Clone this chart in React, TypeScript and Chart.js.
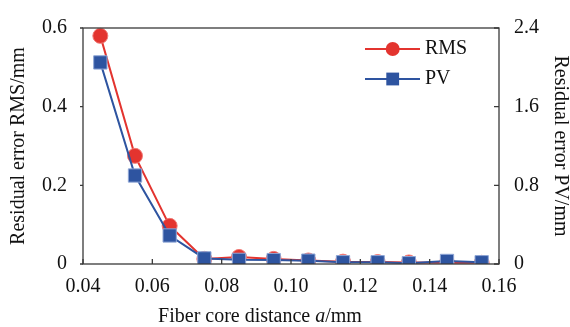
import React, { useEffect, useRef } from "react";
import { Chart, registerables } from "chart.js";

Chart.register(...registerables);

const coreDistance = [0.045, 0.055, 0.065, 0.075, 0.085, 0.095, 0.105, 0.115, 0.125, 0.134, 0.145, 0.155];
const rmsValues = [0.58, 0.275, 0.097, 0.013, 0.018, 0.013, 0.009, 0.006, 0.005, 0.004, 0.003, 0.003];
const pvValues = [2.05, 0.9, 0.29, 0.057, 0.042, 0.04, 0.034, 0.018, 0.018, 0.008, 0.031, 0.018];
const xTicks = [0.04, 0.06, 0.08, 0.1, 0.12, 0.14, 0.16];
const rmsTicks = [0, 0.2, 0.4, 0.6];
const pvTicks = [0, 0.8, 1.6, 2.4];
const seriesNames = ["RMS", "PV"];

const RED = "#E3342F";
const BLUE = "#2E54A0";
const AXIS = "#3a3a3a";
const FONT = "Liberation Serif";
const FS = 20;

export default function App() {
  const ref = useRef<HTMLCanvasElement | null>(null);

  useEffect(() => {
    document.body.style.margin = "0";
    const canvas = ref.current;
    if (!canvas) return;

    const decor = {
      id: "decor",
      afterDraw(chart: any) {
        const ctx = chart.ctx as CanvasRenderingContext2D;
        const a = chart.chartArea;
        const xs = chart.scales.x;
        const yl = chart.scales.y;
        const yr = chart.scales.y2;
        ctx.save();
        ctx.strokeStyle = AXIS;
        ctx.lineWidth = 1.3;
        ctx.strokeRect(a.left, a.top, a.right - a.left, a.bottom - a.top);
        ctx.beginPath();
        xTicks.forEach((v) => {
          const px = xs.getPixelForValue(v);
          ctx.moveTo(px, a.bottom);
          ctx.lineTo(px, a.bottom - 5);
        });
        rmsTicks.forEach((v) => {
          const py = yl.getPixelForValue(v);
          ctx.moveTo(a.left, py);
          ctx.lineTo(a.left - 3, py);
        });
        pvTicks.forEach((v) => {
          const py = yr.getPixelForValue(v);
          ctx.moveTo(a.right, py);
          ctx.lineTo(a.right - 5, py);
        });
        ctx.stroke();

        // axis titles
        ctx.fillStyle = "#111";
        ctx.font = `${FS}px "${FONT}"`;
        ctx.textAlign = "center";
        ctx.textBaseline = "middle";
        const midY = (a.top + a.bottom) / 2;
        ctx.save();
        ctx.translate(19, midY);
        ctx.rotate(-Math.PI / 2);
        ctx.fillText("Residual error RMS/mm", 0, 0);
        ctx.restore();
        ctx.save();
        ctx.translate(560, midY);
        ctx.rotate(Math.PI / 2);
        ctx.fillText("Residual error PV/mm", 0, 0);
        ctx.restore();

        const parts = [
          { t: "Fiber core distance ", f: `${FS}px "${FONT}"` },
          { t: "a", f: `italic ${FS}px "${FONT}"` },
          { t: "/mm", f: `${FS}px "${FONT}"` },
        ];
        let total = 0;
        parts.forEach((p) => {
          ctx.font = p.f;
          total += ctx.measureText(p.t).width;
        });
        let cx = 260 - total / 2;
        ctx.textAlign = "left";
        parts.forEach((p) => {
          ctx.font = p.f;
          ctx.fillText(p.t, cx, 317);
          cx += ctx.measureText(p.t).width;
        });

        // legend
        const rows = [
          { name: seriesNames[0], color: RED, y: 49, shape: "circle" },
          { name: seriesNames[1], color: BLUE, y: 79, shape: "rect" },
        ];
        rows.forEach((r) => {
          ctx.strokeStyle = r.color;
          ctx.lineWidth = 2;
          ctx.beginPath();
          ctx.moveTo(365, r.y);
          ctx.lineTo(420, r.y);
          ctx.stroke();
          ctx.fillStyle = r.color;
          if (r.shape === "circle") {
            ctx.beginPath();
            ctx.arc(392.7, r.y, 7, 0, Math.PI * 2);
            ctx.fill();
          } else {
            ctx.fillRect(392.7 - 6.4, r.y - 6.4, 12.8, 12.8);
          }
          ctx.fillStyle = "#111";
          ctx.font = `${FS}px "${FONT}"`;
          ctx.textAlign = "left";
          ctx.textBaseline = "middle";
          ctx.fillText(r.name, 425, r.y);
        });
        ctx.restore();
      },
    };

    const chart = new Chart(canvas, {
      type: "line",
      data: {
        datasets: [
          {
            label: seriesNames[0],
            data: coreDistance.map((x, i) => ({ x, y: rmsValues[i] })),
            yAxisID: "y",
            borderColor: RED,
            backgroundColor: RED,
            borderWidth: 2,
            pointStyle: "circle",
            pointRadius: 7.5,
            pointBorderColor: "#F07A76",
            pointBorderWidth: 1,
            pointBackgroundColor: RED,
            order: 1,
            clip: { left: 20, right: 20, top: 20, bottom: 0 } as any,
          },
          {
            label: seriesNames[1],
            data: coreDistance.map((x, i) => ({ x, y: pvValues[i] })),
            yAxisID: "y2",
            borderColor: BLUE,
            backgroundColor: BLUE,
            borderWidth: 2,
            pointStyle: "rect",
            pointRadius: 9.4,
            pointBorderColor: "#8EA6D6",
            pointBorderWidth: 1,
            pointBackgroundColor: BLUE,
            order: 0,
            clip: { left: 20, right: 20, top: 20, bottom: 0 } as any,
          },
        ],
      },
      options: {
        responsive: false,
        animation: false,
        layout: { padding: { top: 19, left: 0, right: 0, bottom: 0 } },
        plugins: { legend: { display: false }, tooltip: { enabled: false } },
        scales: {
          x: {
            type: "linear",
            min: 0.04,
            max: 0.16,
            afterFit: (s: any) => {
              s.height = 63;
            },
            afterBuildTicks: (s: any) => {
              s.ticks = xTicks.map((v) => ({ value: v }));
            },
            grid: { display: false, drawTicks: false },
            border: { display: false },
            ticks: {
              padding: 11,
              color: "#111",
              font: { family: FONT, size: FS },
              maxRotation: 0,
              autoSkip: false,
              callback: (v: any) => Number(v).toFixed(2),
            },
          },
          y: {
            position: "left",
            min: 0,
            max: 0.6,
            afterFit: (s: any) => {
              s.width = 83;
            },
            afterBuildTicks: (s: any) => {
              s.ticks = rmsTicks.map((v) => ({ value: v }));
            },
            grid: { display: false, drawTicks: false },
            border: { display: false },
            ticks: {
              padding: 16,
              color: "#111",
              font: { family: FONT, size: FS },
              callback: (v: any) => (Number(v) === 0 ? "0" : Number(v).toFixed(1)),
            },
          },
          y2: {
            position: "right",
            min: 0,
            max: 2.4,
            afterFit: (s: any) => {
              s.width = 71;
            },
            afterBuildTicks: (s: any) => {
              s.ticks = pvTicks.map((v) => ({ value: v }));
            },
            grid: { display: false, drawTicks: false },
            border: { display: false },
            ticks: {
              padding: 15,
              color: "#111",
              font: { family: FONT, size: FS },
              callback: (v: any) => (Number(v) === 0 ? "0" : Number(v).toFixed(1)),
            },
          },
        },
      },
      plugins: [decor],
    });

    return () => chart.destroy();
  }, []);

  return (
    <div style={{ width: 570, height: 327 }}>
      <canvas ref={ref} width={570} height={327} style={{ display: "block" }} />
    </div>
  );
}
